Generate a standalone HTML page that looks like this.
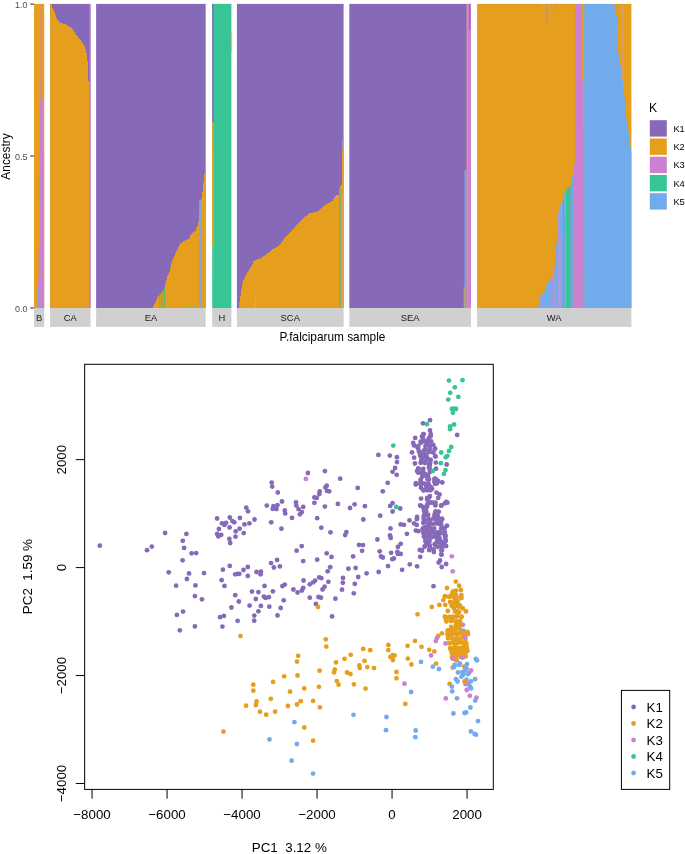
<!DOCTYPE html>
<html><head><meta charset="utf-8"><title>Admixture and PCA</title>
<style>
html,body{margin:0;padding:0;background:#fff;}
body{width:685px;height:854px;overflow:hidden;}
svg{display:block;will-change:transform;font-family:"Liberation Sans",sans-serif;}
</style></head><body>
<svg width="685" height="854" viewBox="0 0 685 854">
<rect x="0" y="0" width="685" height="854" fill="#fff"/>
<g id="admixture">
<rect x="34" y="3.9" width="10.2" height="304.1" fill="#E69F1C"/>
<polygon points="38,308 38,280 38.7,280 38.7,252 39.6,252 39.6,100 40.4,100 40.4,79 41.5,79 41.5,99 42.9,99 42.9,152 44.2,152 44.2,308" fill="#CB80D1"/>
<rect x="38.4" y="287" width="1.3" height="21" fill="#72ABEC"/>
<rect x="39.5" y="173" width="0.6" height="29" fill="#9FA08F"/>
<rect x="40.1" y="3.9" width="0.8" height="75.1" fill="#DC8C7A"/>
<rect x="50.1" y="3.9" width="40.4" height="304.1" fill="#8669B8"/>
<polygon points="50.1,308 50.1,4 51,4 51,5 52,5 52,8 53,8 53,10 54,10 54,12 55,12 55,15 56,15 56,18 57,18 57,20 58,20 58,21 59,21 59,22 60,22 60,23 61,23 61,23 62,23 62,23 63,23 63,24 64,24 64,24 65,24 65,24 66,24 66,25 67,25 67,26 68,26 68,26 69,26 69,27 70,27 70,27 71,27 71,28 72,28 72,29 73,29 73,31 74,31 74,32 75,32 75,34 76,34 76,35 77,35 77,36 78,36 78,38 79,38 79,39 80,39 80,40 81,40 81,41 82,41 82,43 83,43 83,44 84,44 84,46 85,46 85,49 86,49 86,53 87,53 87,61 88,61 88,81 89,81 89,81 89.5,81 89.5,308" fill="#E69F1C"/>
<rect x="89.5" y="3.9" width="1" height="304.1" fill="#CB80D1"/>
<rect x="96.1" y="3.9" width="109.6" height="304.1" fill="#8669B8"/>
<polygon points="153.2,308 153.2,306 154,306 154,304 155,304 155,302 156,302 156,300 157,300 157,297 158,297 158,296 159,296 159,295 160,295 160,294 161,294 161,293 162,293 162,292 163,292 163,291 164,291 164,288 165,288 165,283 166,283 166,280 167,280 167,276 168,276 168,274 169,274 169,272 170,272 170,267 171,267 171,263 172,263 172,260 173,260 173,258 174,258 174,256 175,256 175,253 176,253 176,251 177,251 177,249 178,249 178,247 179,247 179,245 180,245 180,243 181,243 181,243 182,243 182,242 183,242 183,241 184,241 184,241 185,241 185,240 186,240 186,240 187,240 187,239 188,239 188,239 189,239 189,238 190,238 190,235 191,235 191,234 192,234 192,233 193,233 193,232 194,232 194,231 195,231 195,231 196,231 196,228 197,228 197,226 198,226 198,222 199,222 199,212 200,212 200,205 201,205 201,198 202,198 202,192 203,192 203,183 204,183 204,174 205,174 205,308" fill="#E69F1C"/>
<rect x="159.2" y="294.7" width="0.9" height="13.3" fill="#62B56C"/>
<rect x="160.9" y="292.15" width="0.9" height="15.85" fill="#62B56C"/>
<rect x="162.6" y="289.6" width="0.9" height="18.4" fill="#62B56C"/>
<rect x="164" y="287.5" width="0.9" height="20.5" fill="#62B56C"/>
<rect x="181.1" y="305.5" width="0.7" height="2.5" fill="#37C597"/>
<rect x="190.5" y="305.5" width="0.7" height="2.5" fill="#37C597"/>
<rect x="194" y="305.5" width="0.7" height="2.5" fill="#37C597"/>
<rect x="199.2" y="200.4" width="1.8" height="107.6" fill="#7FA6E0"/>
<rect x="201" y="198" width="0.6" height="110" fill="#B59A8A"/>
<rect x="205" y="3.9" width="0.7" height="304.1" fill="#C98BD0"/>
<rect x="212.2" y="3.9" width="19.2" height="304.1" fill="#37C597"/>
<rect x="212.2" y="3.9" width="1.4" height="118.1" fill="#8669B8"/>
<rect x="212.2" y="122" width="1.3" height="123" fill="#E69F1C"/>
<rect x="212.2" y="147.5" width="1.8" height="97.5" fill="#E69F1C"/>
<rect x="212.9" y="245" width="0.8" height="34" fill="#E69F1C"/>
<rect x="230.8" y="33" width="0.6" height="19.7" fill="#E69F1C"/>
<rect x="236.9" y="3.9" width="106.7" height="304.1" fill="#8669B8"/>
<polygon points="239.1,308 239.1,302 240,302 240,296 241,296 241,289 242,289 242,283 243,283 243,280 244,280 244,278 245,278 245,276 246,276 246,274 247,274 247,272 248,272 248,271 249,271 249,269 250,269 250,268 251,268 251,266 252,266 252,264 253,264 253,261 254,261 254,261 255,261 255,260 256,260 256,260 257,260 257,259 258,259 258,259 259,259 259,259 260,259 260,258 261,258 261,258 262,258 262,257 263,257 263,256 264,256 264,256 265,256 265,255 266,255 266,254 267,254 267,253 268,253 268,253 269,253 269,252 270,252 270,251 271,251 271,250 272,250 272,249 273,249 273,249 274,249 274,248 275,248 275,248 276,248 276,247 277,247 277,247 278,247 278,246 279,246 279,245 280,245 280,244 281,244 281,242 282,242 282,241 283,241 283,240 284,240 284,238 285,238 285,237 286,237 286,236 287,236 287,235 288,235 288,234 289,234 289,233 290,233 290,232 291,232 291,231 292,231 292,230 293,230 293,229 294,229 294,228 295,228 295,226 296,226 296,225 297,225 297,224 298,224 298,223 299,223 299,222 300,222 300,221 301,221 301,220 302,220 302,219 303,219 303,218 304,218 304,217 305,217 305,216 306,216 306,216 307,216 307,215 308,215 308,214 309,214 309,213 310,213 310,213 311,213 311,213 312,213 312,213 313,213 313,212 314,212 314,212 315,212 315,212 316,212 316,212 317,212 317,211 318,211 318,211 319,211 319,210 320,210 320,209 321,209 321,208 322,208 322,207 323,207 323,206 324,206 324,206 325,206 325,205 326,205 326,204 327,204 327,204 328,204 328,203 329,203 329,203 330,203 330,202 331,202 331,201 332,201 332,201 333,201 333,199 334,199 334,197 335,197 335,196 336,196 336,195 337,195 337,195 338,195 338,195 339,195 339,189 340,189 340,186 341,186 341,185 342,185 342,150 343,150 343,150 343.6,150 343.6,308" fill="#E69F1C"/>
<rect x="342.2" y="140.5" width="1.4" height="9.5" fill="#C48AC4"/>
<rect x="339.2" y="187.5" width="1.3" height="120.5" fill="#37C597"/>
<rect x="342.5" y="194.5" width="0.8" height="113.5" fill="#E0A090"/>
<rect x="255.3" y="295.2" width="0.8" height="12.8" fill="#E0A0A0"/>
<rect x="349.3" y="3.9" width="121.7" height="304.1" fill="#8669B8"/>
<rect x="463.7" y="287" width="1.3" height="21" fill="#E69F1C"/>
<rect x="464.6" y="170" width="1.9" height="138" fill="#72ABEC"/>
<rect x="466.5" y="3.9" width="1.5" height="304.1" fill="#D9948A"/>
<rect x="468" y="3.9" width="3" height="304.1" fill="#CB80D1"/>
<rect x="469.3" y="3.9" width="1" height="26.1" fill="#8669B8"/>
<rect x="477.1" y="3.9" width="154.3" height="304.1" fill="#E69F1C"/>
<clipPath id="wc"><polygon points="535.7,308 535.7,308 536,308 536,307 537,307 537,306 538,306 538,305 539,305 539,303 540,303 540,295 541,295 541,295 542,295 542,294 543,294 543,293 544,293 544,291 545,291 545,288 546,288 546,286 547,286 547,284 548,284 548,282 549,282 549,280 550,280 550,279 551,279 551,278 552,278 552,277 553,277 553,275 554,275 554,268 555,268 555,258 556,258 556,244 557,244 557,228 558,228 558,211 559,211 559,210 560,210 560,205 561,205 561,204 562,204 562,202 563,202 563,200 564,200 564,193 565,193 565,190 566,190 566,189 567,189 567,188 568,188 568,187 569,187 569,187 570,187 570,185 571,185 571,184 572,184 572,175 573,175 573,170 574,170 574,165 574.6,165 574.6,308"/></clipPath>
<g clip-path="url(#wc)">
<rect x="530" y="3.9" width="45" height="304.1" fill="#72ABEC"/>
<rect x="540.4" y="3.9" width="0.7" height="304.1" fill="#A79ADF"/>
<rect x="542.8" y="3.9" width="0.7" height="304.1" fill="#A79ADF"/>
<rect x="545" y="3.9" width="0.7" height="304.1" fill="#A79ADF"/>
<rect x="547.3" y="3.9" width="0.6" height="304.1" fill="#A79ADF"/>
<rect x="550.6" y="3.9" width="0.7" height="304.1" fill="#A79ADF"/>
<rect x="552.2" y="3.9" width="0.6" height="304.1" fill="#A79ADF"/>
<rect x="553.9" y="3.9" width="1.5" height="304.1" fill="#A79ADF"/>
<rect x="557.7" y="3.9" width="3.8" height="304.1" fill="#A79ADF"/>
<rect x="560.2" y="3.9" width="1.3" height="231.1" fill="#72ABEC"/>
<rect x="563" y="3.9" width="1.2" height="304.1" fill="#37C597"/>
<rect x="564.9" y="190" width="1" height="25" fill="#A79ADF"/>
<rect x="566.1" y="3.9" width="4.5" height="304.1" fill="#37C597"/>
<rect x="570.6" y="3.9" width="0.8" height="304.1" fill="#A294BC"/>
<rect x="571.4" y="3.9" width="1.1" height="304.1" fill="#45C0A4"/>
<rect x="572.5" y="3.9" width="2.1" height="304.1" fill="#72ABEC"/>
</g>
<polygon points="575,3.9 584.1,3.9 584.1,270.8 582.8,270.8 582.8,308 573.6,308 573.6,163.2 575,163.2" fill="#CB80D1"/>
<rect x="582.8" y="270.8" width="1.5" height="37.2" fill="#72ABEC"/>
<polygon points="582,3.9 584.1,3.9 584.1,131.4 583.1,131.4 583.1,80.6 582,80.6" fill="#E69F1C"/>
<polygon points="584.1,308 584.1,4 585,4 585,4 586,4 586,4 587,4 587,4 588,4 588,4 589,4 589,4 590,4 590,4 591,4 591,4 592,4 592,4 593,4 593,4 594,4 594,4 595,4 595,4 596,4 596,4 597,4 597,4 598,4 598,4 599,4 599,4 600,4 600,4 601,4 601,4 602,4 602,4 603,4 603,4 604,4 604,4 605,4 605,4 606,4 606,4 607,4 607,4 608,4 608,4 609,4 609,4 610,4 610,4 611,4 611,4 612,4 612,4 613,4 613,4 614,4 614,5 615,5 615,9 616,9 616,15 617,15 617,33 618,33 618,53 619,53 619,58 620,58 620,66 621,66 621,74 622,74 622,79 623,79 623,88 624,88 624,98 625,98 625,108 626,108 626,120 627,120 627,126 628,126 628,132 629,132 629,137 630,137 630,147 631,147 631,151 631.4,151 631.4,308" fill="#72ABEC"/>
<rect x="617.1" y="3.9" width="1" height="20.5" fill="#6FBF7A"/>
<rect x="624.8" y="89" width="1" height="14.9" fill="#6FBF7A"/>
<rect x="621.9" y="3.9" width="1.2" height="76.1" fill="#E0A066"/>
<rect x="537" y="3.9" width="0.7" height="3.1" fill="#A88A8E"/>
<rect x="546.4" y="3.9" width="0.7" height="18.3" fill="#A88A8E"/>
<rect x="554.6" y="3.9" width="0.7" height="6.6" fill="#A88A8E"/>
<rect x="34" y="308" width="10.2" height="18.9" fill="#D0D0D0"/>
<text x="39.1" y="320.6" text-anchor="middle" font-size="9.4" fill="#1A1A1A">B</text>
<rect x="50.1" y="308" width="40.4" height="18.9" fill="#D0D0D0"/>
<text x="70.3" y="320.6" text-anchor="middle" font-size="9.4" fill="#1A1A1A">CA</text>
<rect x="96.1" y="308" width="109.6" height="18.9" fill="#D0D0D0"/>
<text x="150.9" y="320.6" text-anchor="middle" font-size="9.4" fill="#1A1A1A">EA</text>
<rect x="212.2" y="308" width="19.2" height="18.9" fill="#D0D0D0"/>
<text x="221.8" y="320.6" text-anchor="middle" font-size="9.4" fill="#1A1A1A">H</text>
<rect x="236.9" y="308" width="106.7" height="18.9" fill="#D0D0D0"/>
<text x="290.25" y="320.6" text-anchor="middle" font-size="9.4" fill="#1A1A1A">SCA</text>
<rect x="349.3" y="308" width="121.7" height="18.9" fill="#D0D0D0"/>
<text x="410.15" y="320.6" text-anchor="middle" font-size="9.4" fill="#1A1A1A">SEA</text>
<rect x="477.1" y="308" width="154.3" height="18.9" fill="#D0D0D0"/>
<text x="554.25" y="320.6" text-anchor="middle" font-size="9.4" fill="#1A1A1A">WA</text>
<line x1="30.3" x2="33.9" y1="4.1" y2="4.1" stroke="#333" stroke-width="1.1"/>
<text x="27.6" y="7.8" text-anchor="end" font-size="9.0" fill="#4D4D4D">1.0</text>
<line x1="30.3" x2="33.9" y1="156" y2="156" stroke="#333" stroke-width="1.1"/>
<text x="27.6" y="159.7" text-anchor="end" font-size="9.0" fill="#4D4D4D">0.5</text>
<line x1="30.3" x2="33.9" y1="308" y2="308" stroke="#333" stroke-width="1.1"/>
<text x="27.6" y="311.7" text-anchor="end" font-size="9.0" fill="#4D4D4D">0.0</text>
<text transform="translate(10.3,156.5) rotate(-90)" text-anchor="middle" font-size="11.9" fill="#000">Ancestry</text>
<text x="332.5" y="340.9" text-anchor="middle" font-size="11.85" fill="#000">P.falciparum sample</text>
<text x="649.1" y="112" font-size="12.2" fill="#000">K</text>
<rect x="649.8" y="120.2" width="17" height="16.4" fill="#8669B8"/>
<text x="673.4" y="131.8" font-size="9.3" fill="#000">K1</text>
<rect x="649.8" y="138.45" width="17" height="16.4" fill="#E69F1C"/>
<text x="673.4" y="150.05" font-size="9.3" fill="#000">K2</text>
<rect x="649.8" y="156.7" width="17" height="16.4" fill="#CB80D1"/>
<text x="673.4" y="168.3" font-size="9.3" fill="#000">K3</text>
<rect x="649.8" y="174.95" width="17" height="16.4" fill="#37C597"/>
<text x="673.4" y="186.55" font-size="9.3" fill="#000">K4</text>
<rect x="649.8" y="193.2" width="17" height="16.4" fill="#72ABEC"/>
<text x="673.4" y="204.8" font-size="9.3" fill="#000">K5</text>
</g>
<g id="pca">
<circle cx="463.4" cy="630.7" r="2.4" fill="#72ABEC"/>
<circle cx="466.5" cy="648.8" r="2.4" fill="#72ABEC"/>
<circle cx="456.3" cy="656.2" r="2.4" fill="#72ABEC"/>
<circle cx="305.9" cy="478.9" r="2.4" fill="#CB80D1"/>
<circle cx="451.8" cy="556.3" r="2.4" fill="#CB80D1"/>
<circle cx="462.9" cy="624.8" r="2.4" fill="#CB80D1"/>
<circle cx="445.5" cy="643.5" r="2.4" fill="#CB80D1"/>
<circle cx="456.6" cy="660.3" r="2.4" fill="#CB80D1"/>
<circle cx="99.8" cy="545.7" r="2.4" fill="#8669B8"/>
<circle cx="147" cy="550.2" r="2.4" fill="#8669B8"/>
<circle cx="151.8" cy="546.6" r="2.4" fill="#8669B8"/>
<circle cx="165.1" cy="533" r="2.4" fill="#8669B8"/>
<circle cx="186.4" cy="533.9" r="2.4" fill="#8669B8"/>
<circle cx="182.8" cy="540.8" r="2.4" fill="#8669B8"/>
<circle cx="184.1" cy="547.9" r="2.4" fill="#8669B8"/>
<circle cx="191.6" cy="553.3" r="2.4" fill="#8669B8"/>
<circle cx="196.2" cy="553.1" r="2.4" fill="#8669B8"/>
<circle cx="182.6" cy="560.3" r="2.4" fill="#8669B8"/>
<circle cx="168.7" cy="572.3" r="2.4" fill="#8669B8"/>
<circle cx="189" cy="573.4" r="2.4" fill="#8669B8"/>
<circle cx="186.9" cy="579" r="2.4" fill="#8669B8"/>
<circle cx="176.1" cy="585.7" r="2.4" fill="#8669B8"/>
<circle cx="195.4" cy="585.4" r="2.4" fill="#8669B8"/>
<circle cx="194.9" cy="596.1" r="2.4" fill="#8669B8"/>
<circle cx="183" cy="611.6" r="2.4" fill="#8669B8"/>
<circle cx="176.9" cy="614.9" r="2.4" fill="#8669B8"/>
<circle cx="194.9" cy="626.4" r="2.4" fill="#8669B8"/>
<circle cx="179.8" cy="630.3" r="2.4" fill="#8669B8"/>
<circle cx="277.8" cy="492.5" r="2.4" fill="#8669B8"/>
<circle cx="282" cy="501.5" r="2.4" fill="#8669B8"/>
<circle cx="266.8" cy="505.6" r="2.4" fill="#8669B8"/>
<circle cx="273.4" cy="506.1" r="2.4" fill="#8669B8"/>
<circle cx="277.5" cy="505.1" r="2.4" fill="#8669B8"/>
<circle cx="272.7" cy="508.9" r="2.4" fill="#8669B8"/>
<circle cx="276.5" cy="509" r="2.4" fill="#8669B8"/>
<circle cx="275" cy="507.4" r="2.4" fill="#8669B8"/>
<circle cx="246.3" cy="507.7" r="2.4" fill="#8669B8"/>
<circle cx="248" cy="511.3" r="2.4" fill="#8669B8"/>
<circle cx="284.8" cy="510.5" r="2.4" fill="#8669B8"/>
<circle cx="285.2" cy="513.4" r="2.4" fill="#8669B8"/>
<circle cx="296" cy="502.3" r="2.4" fill="#8669B8"/>
<circle cx="296.3" cy="505.6" r="2.4" fill="#8669B8"/>
<circle cx="298.6" cy="509.2" r="2.4" fill="#8669B8"/>
<circle cx="303.2" cy="506.9" r="2.4" fill="#8669B8"/>
<circle cx="301.9" cy="512.1" r="2.4" fill="#8669B8"/>
<circle cx="299.9" cy="514.3" r="2.4" fill="#8669B8"/>
<circle cx="292" cy="517.9" r="2.4" fill="#8669B8"/>
<circle cx="271.2" cy="522.3" r="2.4" fill="#8669B8"/>
<circle cx="281.4" cy="528.7" r="2.4" fill="#8669B8"/>
<circle cx="217.1" cy="518.5" r="2.4" fill="#8669B8"/>
<circle cx="229.8" cy="517.5" r="2.4" fill="#8669B8"/>
<circle cx="239.9" cy="518" r="2.4" fill="#8669B8"/>
<circle cx="254.5" cy="519.5" r="2.4" fill="#8669B8"/>
<circle cx="232.4" cy="521.1" r="2.4" fill="#8669B8"/>
<circle cx="234.3" cy="522.3" r="2.4" fill="#8669B8"/>
<circle cx="222" cy="523.3" r="2.4" fill="#8669B8"/>
<circle cx="226.1" cy="522.8" r="2.4" fill="#8669B8"/>
<circle cx="224.5" cy="524.9" r="2.4" fill="#8669B8"/>
<circle cx="249.4" cy="523.3" r="2.4" fill="#8669B8"/>
<circle cx="244.5" cy="524.4" r="2.4" fill="#8669B8"/>
<circle cx="229.6" cy="527.4" r="2.4" fill="#8669B8"/>
<circle cx="218.9" cy="529" r="2.4" fill="#8669B8"/>
<circle cx="239.6" cy="528.7" r="2.4" fill="#8669B8"/>
<circle cx="235.7" cy="531.3" r="2.4" fill="#8669B8"/>
<circle cx="243.7" cy="533.1" r="2.4" fill="#8669B8"/>
<circle cx="217.1" cy="533.9" r="2.4" fill="#8669B8"/>
<circle cx="221.2" cy="534.8" r="2.4" fill="#8669B8"/>
<circle cx="218.4" cy="536.4" r="2.4" fill="#8669B8"/>
<circle cx="235.5" cy="536.7" r="2.4" fill="#8669B8"/>
<circle cx="229.4" cy="538.9" r="2.4" fill="#8669B8"/>
<circle cx="230.2" cy="543" r="2.4" fill="#8669B8"/>
<circle cx="301.7" cy="546.1" r="2.4" fill="#8669B8"/>
<circle cx="296.6" cy="550.7" r="2.4" fill="#8669B8"/>
<circle cx="303.2" cy="561.1" r="2.4" fill="#8669B8"/>
<circle cx="277.1" cy="560" r="2.4" fill="#8669B8"/>
<circle cx="271.1" cy="563.1" r="2.4" fill="#8669B8"/>
<circle cx="273.9" cy="567.5" r="2.4" fill="#8669B8"/>
<circle cx="279.9" cy="566.4" r="2.4" fill="#8669B8"/>
<circle cx="229.8" cy="565.9" r="2.4" fill="#8669B8"/>
<circle cx="222.9" cy="569.7" r="2.4" fill="#8669B8"/>
<circle cx="247.8" cy="567" r="2.4" fill="#8669B8"/>
<circle cx="243.5" cy="570" r="2.4" fill="#8669B8"/>
<circle cx="235.2" cy="574.3" r="2.4" fill="#8669B8"/>
<circle cx="237.3" cy="573.9" r="2.4" fill="#8669B8"/>
<circle cx="239.3" cy="573.8" r="2.4" fill="#8669B8"/>
<circle cx="247.8" cy="575.9" r="2.4" fill="#8669B8"/>
<circle cx="256.5" cy="572" r="2.4" fill="#8669B8"/>
<circle cx="260.9" cy="571.6" r="2.4" fill="#8669B8"/>
<circle cx="260.6" cy="574.3" r="2.4" fill="#8669B8"/>
<circle cx="204" cy="573.1" r="2.4" fill="#8669B8"/>
<circle cx="221.6" cy="580.2" r="2.4" fill="#8669B8"/>
<circle cx="224.5" cy="585.9" r="2.4" fill="#8669B8"/>
<circle cx="303.5" cy="580.5" r="2.4" fill="#8669B8"/>
<circle cx="284.8" cy="584.6" r="2.4" fill="#8669B8"/>
<circle cx="282.4" cy="586.1" r="2.4" fill="#8669B8"/>
<circle cx="264.5" cy="585.9" r="2.4" fill="#8669B8"/>
<circle cx="293.4" cy="589.5" r="2.4" fill="#8669B8"/>
<circle cx="303.2" cy="587.9" r="2.4" fill="#8669B8"/>
<circle cx="301.9" cy="590.5" r="2.4" fill="#8669B8"/>
<circle cx="297.6" cy="592.5" r="2.4" fill="#8669B8"/>
<circle cx="252" cy="591.6" r="2.4" fill="#8669B8"/>
<circle cx="258.4" cy="592.1" r="2.4" fill="#8669B8"/>
<circle cx="272.9" cy="591.3" r="2.4" fill="#8669B8"/>
<circle cx="235.2" cy="595.2" r="2.4" fill="#8669B8"/>
<circle cx="202" cy="599.3" r="2.4" fill="#8669B8"/>
<circle cx="263.9" cy="596.6" r="2.4" fill="#8669B8"/>
<circle cx="265.5" cy="597.9" r="2.4" fill="#8669B8"/>
<circle cx="268.8" cy="597.2" r="2.4" fill="#8669B8"/>
<circle cx="255.8" cy="599" r="2.4" fill="#8669B8"/>
<circle cx="283.7" cy="600.3" r="2.4" fill="#8669B8"/>
<circle cx="238.8" cy="601.5" r="2.4" fill="#8669B8"/>
<circle cx="249.6" cy="605.6" r="2.4" fill="#8669B8"/>
<circle cx="260.9" cy="605.9" r="2.4" fill="#8669B8"/>
<circle cx="269.3" cy="606.7" r="2.4" fill="#8669B8"/>
<circle cx="280.7" cy="608" r="2.4" fill="#8669B8"/>
<circle cx="231.4" cy="607.5" r="2.4" fill="#8669B8"/>
<circle cx="258.4" cy="611.3" r="2.4" fill="#8669B8"/>
<circle cx="254.3" cy="615.6" r="2.4" fill="#8669B8"/>
<circle cx="277.5" cy="615.4" r="2.4" fill="#8669B8"/>
<circle cx="223.9" cy="615.9" r="2.4" fill="#8669B8"/>
<circle cx="220.1" cy="617.2" r="2.4" fill="#8669B8"/>
<circle cx="237.6" cy="620.8" r="2.4" fill="#8669B8"/>
<circle cx="254.2" cy="620.7" r="2.4" fill="#8669B8"/>
<circle cx="222.4" cy="626.6" r="2.4" fill="#8669B8"/>
<circle cx="319.7" cy="491.3" r="2.4" fill="#8669B8"/>
<circle cx="327" cy="490.8" r="2.4" fill="#8669B8"/>
<circle cx="329.2" cy="491.3" r="2.4" fill="#8669B8"/>
<circle cx="319.3" cy="494.1" r="2.4" fill="#8669B8"/>
<circle cx="314.4" cy="497.4" r="2.4" fill="#8669B8"/>
<circle cx="316.7" cy="497.9" r="2.4" fill="#8669B8"/>
<circle cx="382.8" cy="491.3" r="2.4" fill="#8669B8"/>
<circle cx="314.4" cy="502.8" r="2.4" fill="#8669B8"/>
<circle cx="324.9" cy="506.6" r="2.4" fill="#8669B8"/>
<circle cx="337.9" cy="503.9" r="2.4" fill="#8669B8"/>
<circle cx="354.6" cy="504.3" r="2.4" fill="#8669B8"/>
<circle cx="350" cy="508" r="2.4" fill="#8669B8"/>
<circle cx="364.9" cy="506.2" r="2.4" fill="#8669B8"/>
<circle cx="392.6" cy="503.1" r="2.4" fill="#8669B8"/>
<circle cx="390.2" cy="505.9" r="2.4" fill="#8669B8"/>
<circle cx="400.2" cy="508.5" r="2.4" fill="#8669B8"/>
<circle cx="392.6" cy="511.5" r="2.4" fill="#8669B8"/>
<circle cx="380.2" cy="515.7" r="2.4" fill="#8669B8"/>
<circle cx="317.2" cy="518.2" r="2.4" fill="#8669B8"/>
<circle cx="363.3" cy="519.5" r="2.4" fill="#8669B8"/>
<circle cx="409.5" cy="520.3" r="2.4" fill="#8669B8"/>
<circle cx="400.7" cy="524.4" r="2.4" fill="#8669B8"/>
<circle cx="403.9" cy="524.8" r="2.4" fill="#8669B8"/>
<circle cx="390.5" cy="528.4" r="2.4" fill="#8669B8"/>
<circle cx="321.3" cy="527.7" r="2.4" fill="#8669B8"/>
<circle cx="330.5" cy="532.3" r="2.4" fill="#8669B8"/>
<circle cx="346.4" cy="532.1" r="2.4" fill="#8669B8"/>
<circle cx="345.2" cy="535.1" r="2.4" fill="#8669B8"/>
<circle cx="406.9" cy="533.8" r="2.4" fill="#8669B8"/>
<circle cx="390" cy="535.4" r="2.4" fill="#8669B8"/>
<circle cx="390.7" cy="537.9" r="2.4" fill="#8669B8"/>
<circle cx="377.4" cy="539.5" r="2.4" fill="#8669B8"/>
<circle cx="400.7" cy="543.8" r="2.4" fill="#8669B8"/>
<circle cx="397.9" cy="546.9" r="2.4" fill="#8669B8"/>
<circle cx="359" cy="544.9" r="2.4" fill="#8669B8"/>
<circle cx="363" cy="545.1" r="2.4" fill="#8669B8"/>
<circle cx="362.1" cy="550.8" r="2.4" fill="#8669B8"/>
<circle cx="379.7" cy="551.3" r="2.4" fill="#8669B8"/>
<circle cx="391.1" cy="552.8" r="2.4" fill="#8669B8"/>
<circle cx="397.4" cy="552" r="2.4" fill="#8669B8"/>
<circle cx="397.9" cy="553.9" r="2.4" fill="#8669B8"/>
<circle cx="400.7" cy="553.9" r="2.4" fill="#8669B8"/>
<circle cx="326.7" cy="553.3" r="2.4" fill="#8669B8"/>
<circle cx="331.5" cy="556.9" r="2.4" fill="#8669B8"/>
<circle cx="353.1" cy="556.4" r="2.4" fill="#8669B8"/>
<circle cx="381" cy="556.4" r="2.4" fill="#8669B8"/>
<circle cx="382.8" cy="557.5" r="2.4" fill="#8669B8"/>
<circle cx="392.3" cy="559.2" r="2.4" fill="#8669B8"/>
<circle cx="393.9" cy="558.4" r="2.4" fill="#8669B8"/>
<circle cx="317.2" cy="559.7" r="2.4" fill="#8669B8"/>
<circle cx="409.8" cy="564.3" r="2.4" fill="#8669B8"/>
<circle cx="388" cy="566.1" r="2.4" fill="#8669B8"/>
<circle cx="330.2" cy="567.2" r="2.4" fill="#8669B8"/>
<circle cx="348.4" cy="568.7" r="2.4" fill="#8669B8"/>
<circle cx="355.6" cy="568" r="2.4" fill="#8669B8"/>
<circle cx="402.1" cy="569.8" r="2.4" fill="#8669B8"/>
<circle cx="327.7" cy="571.3" r="2.4" fill="#8669B8"/>
<circle cx="378.7" cy="572" r="2.4" fill="#8669B8"/>
<circle cx="366.6" cy="573.3" r="2.4" fill="#8669B8"/>
<circle cx="319.2" cy="577.4" r="2.4" fill="#8669B8"/>
<circle cx="321.3" cy="578.2" r="2.4" fill="#8669B8"/>
<circle cx="343" cy="578" r="2.4" fill="#8669B8"/>
<circle cx="358.2" cy="577" r="2.4" fill="#8669B8"/>
<circle cx="315.1" cy="580.7" r="2.4" fill="#8669B8"/>
<circle cx="313.1" cy="582.3" r="2.4" fill="#8669B8"/>
<circle cx="309.8" cy="584.3" r="2.4" fill="#8669B8"/>
<circle cx="328.4" cy="581.8" r="2.4" fill="#8669B8"/>
<circle cx="342.8" cy="582.8" r="2.4" fill="#8669B8"/>
<circle cx="354.8" cy="583.9" r="2.4" fill="#8669B8"/>
<circle cx="324.6" cy="586.7" r="2.4" fill="#8669B8"/>
<circle cx="322.5" cy="589.5" r="2.4" fill="#8669B8"/>
<circle cx="342" cy="589.7" r="2.4" fill="#8669B8"/>
<circle cx="353.8" cy="593.3" r="2.4" fill="#8669B8"/>
<circle cx="309.8" cy="597.7" r="2.4" fill="#8669B8"/>
<circle cx="318.5" cy="597" r="2.4" fill="#8669B8"/>
<circle cx="321" cy="597.7" r="2.4" fill="#8669B8"/>
<circle cx="335.4" cy="598.7" r="2.4" fill="#8669B8"/>
<circle cx="315.9" cy="603.9" r="2.4" fill="#8669B8"/>
<circle cx="332.1" cy="616.4" r="2.4" fill="#8669B8"/>
<circle cx="271.7" cy="482.6" r="2.4" fill="#8669B8"/>
<circle cx="272.2" cy="486.6" r="2.4" fill="#8669B8"/>
<circle cx="378.4" cy="454.9" r="2.4" fill="#8669B8"/>
<circle cx="389.8" cy="455.6" r="2.4" fill="#8669B8"/>
<circle cx="396.9" cy="457.2" r="2.4" fill="#8669B8"/>
<circle cx="397" cy="462.1" r="2.4" fill="#8669B8"/>
<circle cx="395.1" cy="468" r="2.4" fill="#8669B8"/>
<circle cx="392.6" cy="471.8" r="2.4" fill="#8669B8"/>
<circle cx="396.7" cy="474.8" r="2.4" fill="#8669B8"/>
<circle cx="387.7" cy="482.8" r="2.4" fill="#8669B8"/>
<circle cx="357.7" cy="487.9" r="2.4" fill="#8669B8"/>
<circle cx="340.2" cy="478.7" r="2.4" fill="#8669B8"/>
<circle cx="324.9" cy="471.1" r="2.4" fill="#8669B8"/>
<circle cx="307.9" cy="473" r="2.4" fill="#8669B8"/>
<circle cx="326.7" cy="485.7" r="2.4" fill="#8669B8"/>
<circle cx="325.4" cy="487.5" r="2.4" fill="#8669B8"/>
<circle cx="430" cy="420.2" r="2.4" fill="#8669B8"/>
<circle cx="423" cy="423.3" r="2.4" fill="#8669B8"/>
<circle cx="457.2" cy="435" r="2.4" fill="#8669B8"/>
<circle cx="430" cy="430.4" r="2.4" fill="#8669B8"/>
<circle cx="430.7" cy="436" r="2.4" fill="#8669B8"/>
<circle cx="415.2" cy="437.9" r="2.4" fill="#8669B8"/>
<circle cx="446.7" cy="464.5" r="2.4" fill="#8669B8"/>
<circle cx="435.8" cy="462.6" r="2.4" fill="#8669B8"/>
<circle cx="436" cy="468.7" r="2.4" fill="#8669B8"/>
<circle cx="442.3" cy="482.5" r="2.4" fill="#8669B8"/>
<circle cx="423.5" cy="434.2" r="2.4" fill="#8669B8"/>
<circle cx="422" cy="436.4" r="2.4" fill="#8669B8"/>
<circle cx="428.6" cy="439.1" r="2.4" fill="#8669B8"/>
<circle cx="413.2" cy="443" r="2.4" fill="#8669B8"/>
<circle cx="421.1" cy="442.6" r="2.4" fill="#8669B8"/>
<circle cx="426.4" cy="441.7" r="2.4" fill="#8669B8"/>
<circle cx="430.7" cy="441.7" r="2.4" fill="#8669B8"/>
<circle cx="414.1" cy="445.6" r="2.4" fill="#8669B8"/>
<circle cx="417.6" cy="447" r="2.4" fill="#8669B8"/>
<circle cx="425.5" cy="446.1" r="2.4" fill="#8669B8"/>
<circle cx="429.9" cy="446.1" r="2.4" fill="#8669B8"/>
<circle cx="435.1" cy="448.7" r="2.4" fill="#8669B8"/>
<circle cx="412" cy="452.4" r="2.4" fill="#8669B8"/>
<circle cx="418.9" cy="451.4" r="2.4" fill="#8669B8"/>
<circle cx="424.2" cy="450.5" r="2.4" fill="#8669B8"/>
<circle cx="429" cy="451.4" r="2.4" fill="#8669B8"/>
<circle cx="433.4" cy="452.2" r="2.4" fill="#8669B8"/>
<circle cx="420.2" cy="454.9" r="2.4" fill="#8669B8"/>
<circle cx="425.5" cy="454.9" r="2.4" fill="#8669B8"/>
<circle cx="435.6" cy="456.6" r="2.4" fill="#8669B8"/>
<circle cx="414.1" cy="457.7" r="2.4" fill="#8669B8"/>
<circle cx="422" cy="458.4" r="2.4" fill="#8669B8"/>
<circle cx="427.2" cy="458.4" r="2.4" fill="#8669B8"/>
<circle cx="430.7" cy="460.1" r="2.4" fill="#8669B8"/>
<circle cx="421.1" cy="461.9" r="2.4" fill="#8669B8"/>
<circle cx="425.5" cy="461.9" r="2.4" fill="#8669B8"/>
<circle cx="414.9" cy="463.5" r="2.4" fill="#8669B8"/>
<circle cx="429" cy="464.5" r="2.4" fill="#8669B8"/>
<circle cx="429" cy="467.2" r="2.4" fill="#8669B8"/>
<circle cx="418.4" cy="468.5" r="2.4" fill="#8669B8"/>
<circle cx="422.8" cy="469.8" r="2.4" fill="#8669B8"/>
<circle cx="417.1" cy="471.1" r="2.4" fill="#8669B8"/>
<circle cx="421.1" cy="472.9" r="2.4" fill="#8669B8"/>
<circle cx="429.9" cy="472" r="2.4" fill="#8669B8"/>
<circle cx="425.5" cy="474.2" r="2.4" fill="#8669B8"/>
<circle cx="422.4" cy="476" r="2.4" fill="#8669B8"/>
<circle cx="427.2" cy="476.8" r="2.4" fill="#8669B8"/>
<circle cx="429" cy="479.5" r="2.4" fill="#8669B8"/>
<circle cx="420.6" cy="480.8" r="2.4" fill="#8669B8"/>
<circle cx="435.1" cy="478.6" r="2.4" fill="#8669B8"/>
<circle cx="434.3" cy="481.7" r="2.4" fill="#8669B8"/>
<circle cx="438.2" cy="481.2" r="2.4" fill="#8669B8"/>
<circle cx="415.8" cy="484.6" r="2.4" fill="#8669B8"/>
<circle cx="421.1" cy="484.7" r="2.4" fill="#8669B8"/>
<circle cx="428.1" cy="483.9" r="2.4" fill="#8669B8"/>
<circle cx="426.4" cy="486.5" r="2.4" fill="#8669B8"/>
<circle cx="429.9" cy="487.4" r="2.4" fill="#8669B8"/>
<circle cx="423.7" cy="490" r="2.4" fill="#8669B8"/>
<circle cx="432.1" cy="488.7" r="2.4" fill="#8669B8"/>
<circle cx="427.2" cy="490" r="2.4" fill="#8669B8"/>
<circle cx="436.5" cy="492.6" r="2.4" fill="#8669B8"/>
<circle cx="439.5" cy="494.4" r="2.4" fill="#8669B8"/>
<circle cx="429.9" cy="496.2" r="2.4" fill="#8669B8"/>
<circle cx="427.2" cy="497.9" r="2.4" fill="#8669B8"/>
<circle cx="421.1" cy="498.6" r="2.4" fill="#8669B8"/>
<circle cx="438.2" cy="497.9" r="2.4" fill="#8669B8"/>
<circle cx="429" cy="497.6" r="2.4" fill="#8669B8"/>
<circle cx="427.2" cy="499.4" r="2.4" fill="#8669B8"/>
<circle cx="430.7" cy="502.5" r="2.4" fill="#8669B8"/>
<circle cx="435.1" cy="504.7" r="2.4" fill="#8669B8"/>
<circle cx="427.2" cy="504.7" r="2.4" fill="#8669B8"/>
<circle cx="420.2" cy="505.5" r="2.4" fill="#8669B8"/>
<circle cx="423.7" cy="507.3" r="2.4" fill="#8669B8"/>
<circle cx="441.3" cy="505.5" r="2.4" fill="#8669B8"/>
<circle cx="444.8" cy="503.3" r="2.4" fill="#8669B8"/>
<circle cx="447.4" cy="502.7" r="2.4" fill="#8669B8"/>
<circle cx="425.5" cy="510.8" r="2.4" fill="#8669B8"/>
<circle cx="438.7" cy="511.7" r="2.4" fill="#8669B8"/>
<circle cx="435.1" cy="513.4" r="2.4" fill="#8669B8"/>
<circle cx="427.2" cy="514.8" r="2.4" fill="#8669B8"/>
<circle cx="423.7" cy="516.1" r="2.4" fill="#8669B8"/>
<circle cx="417.1" cy="517" r="2.4" fill="#8669B8"/>
<circle cx="417.1" cy="518.7" r="2.4" fill="#8669B8"/>
<circle cx="434.3" cy="517" r="2.4" fill="#8669B8"/>
<circle cx="437.8" cy="517.8" r="2.4" fill="#8669B8"/>
<circle cx="442.2" cy="519.2" r="2.4" fill="#8669B8"/>
<circle cx="425.5" cy="520.5" r="2.4" fill="#8669B8"/>
<circle cx="429.9" cy="520.5" r="2.4" fill="#8669B8"/>
<circle cx="440.8" cy="521.4" r="2.4" fill="#8669B8"/>
<circle cx="414.1" cy="523.3" r="2.4" fill="#8669B8"/>
<circle cx="416.7" cy="524.9" r="2.4" fill="#8669B8"/>
<circle cx="423.7" cy="522.2" r="2.4" fill="#8669B8"/>
<circle cx="429.9" cy="524" r="2.4" fill="#8669B8"/>
<circle cx="436" cy="523.1" r="2.4" fill="#8669B8"/>
<circle cx="439.5" cy="524" r="2.4" fill="#8669B8"/>
<circle cx="447" cy="525.7" r="2.4" fill="#8669B8"/>
<circle cx="424.6" cy="527.5" r="2.4" fill="#8669B8"/>
<circle cx="429" cy="527.1" r="2.4" fill="#8669B8"/>
<circle cx="442.2" cy="528.4" r="2.4" fill="#8669B8"/>
<circle cx="444.8" cy="527.9" r="2.4" fill="#8669B8"/>
<circle cx="422.8" cy="529.3" r="2.4" fill="#8669B8"/>
<circle cx="415.8" cy="530.6" r="2.4" fill="#8669B8"/>
<circle cx="418.4" cy="531.2" r="2.4" fill="#8669B8"/>
<circle cx="427.2" cy="530.1" r="2.4" fill="#8669B8"/>
<circle cx="432.5" cy="531" r="2.4" fill="#8669B8"/>
<circle cx="439.5" cy="531.9" r="2.4" fill="#8669B8"/>
<circle cx="423.7" cy="533.7" r="2.4" fill="#8669B8"/>
<circle cx="429" cy="533.7" r="2.4" fill="#8669B8"/>
<circle cx="435.1" cy="534.5" r="2.4" fill="#8669B8"/>
<circle cx="438.7" cy="534.5" r="2.4" fill="#8669B8"/>
<circle cx="443.9" cy="533.7" r="2.4" fill="#8669B8"/>
<circle cx="445.7" cy="535.8" r="2.4" fill="#8669B8"/>
<circle cx="424.6" cy="537.2" r="2.4" fill="#8669B8"/>
<circle cx="429.9" cy="537.2" r="2.4" fill="#8669B8"/>
<circle cx="436.9" cy="538" r="2.4" fill="#8669B8"/>
<circle cx="425.5" cy="540.7" r="2.4" fill="#8669B8"/>
<circle cx="428.1" cy="540.7" r="2.4" fill="#8669B8"/>
<circle cx="439.5" cy="538.9" r="2.4" fill="#8669B8"/>
<circle cx="445.7" cy="539.8" r="2.4" fill="#8669B8"/>
<circle cx="426.4" cy="544.2" r="2.4" fill="#8669B8"/>
<circle cx="438.7" cy="542.4" r="2.4" fill="#8669B8"/>
<circle cx="443.9" cy="542.9" r="2.4" fill="#8669B8"/>
<circle cx="434.7" cy="544.2" r="2.4" fill="#8669B8"/>
<circle cx="424.6" cy="546.8" r="2.4" fill="#8669B8"/>
<circle cx="429.9" cy="546.8" r="2.4" fill="#8669B8"/>
<circle cx="437.8" cy="546.8" r="2.4" fill="#8669B8"/>
<circle cx="442.2" cy="546" r="2.4" fill="#8669B8"/>
<circle cx="446.1" cy="546" r="2.4" fill="#8669B8"/>
<circle cx="419.8" cy="549.9" r="2.4" fill="#8669B8"/>
<circle cx="422" cy="550.8" r="2.4" fill="#8669B8"/>
<circle cx="429.4" cy="549.9" r="2.4" fill="#8669B8"/>
<circle cx="433.8" cy="552.1" r="2.4" fill="#8669B8"/>
<circle cx="441.3" cy="550.3" r="2.4" fill="#8669B8"/>
<circle cx="441.3" cy="554.3" r="2.4" fill="#8669B8"/>
<circle cx="420.2" cy="556.8" r="2.4" fill="#8669B8"/>
<circle cx="440" cy="560.4" r="2.4" fill="#8669B8"/>
<circle cx="438.7" cy="562.6" r="2.4" fill="#8669B8"/>
<circle cx="446.1" cy="564" r="2.4" fill="#8669B8"/>
<circle cx="417.1" cy="566.3" r="2.4" fill="#8669B8"/>
<circle cx="441.7" cy="567" r="2.4" fill="#8669B8"/>
<circle cx="433.5" cy="586.2" r="2.4" fill="#8669B8"/>
<circle cx="423.5" cy="434.2" r="2.4" fill="#8669B8"/>
<circle cx="430.7" cy="434.1" r="2.4" fill="#8669B8"/>
<circle cx="422.9" cy="438" r="2.4" fill="#8669B8"/>
<circle cx="428.9" cy="438.2" r="2.4" fill="#8669B8"/>
<circle cx="420.6" cy="441.6" r="2.4" fill="#8669B8"/>
<circle cx="424.1" cy="441.2" r="2.4" fill="#8669B8"/>
<circle cx="428" cy="442.1" r="2.4" fill="#8669B8"/>
<circle cx="431.1" cy="441.4" r="2.4" fill="#8669B8"/>
<circle cx="418.4" cy="445.8" r="2.4" fill="#8669B8"/>
<circle cx="426.1" cy="445.1" r="2.4" fill="#8669B8"/>
<circle cx="430" cy="444.6" r="2.4" fill="#8669B8"/>
<circle cx="433.3" cy="444.9" r="2.4" fill="#8669B8"/>
<circle cx="418" cy="448.2" r="2.4" fill="#8669B8"/>
<circle cx="425.3" cy="449.1" r="2.4" fill="#8669B8"/>
<circle cx="429.7" cy="448.8" r="2.4" fill="#8669B8"/>
<circle cx="434.8" cy="448.6" r="2.4" fill="#8669B8"/>
<circle cx="419.5" cy="451.7" r="2.4" fill="#8669B8"/>
<circle cx="423.4" cy="451.9" r="2.4" fill="#8669B8"/>
<circle cx="428.6" cy="452.1" r="2.4" fill="#8669B8"/>
<circle cx="432.6" cy="452.3" r="2.4" fill="#8669B8"/>
<circle cx="420.2" cy="455.5" r="2.4" fill="#8669B8"/>
<circle cx="423.9" cy="456" r="2.4" fill="#8669B8"/>
<circle cx="426.4" cy="455.8" r="2.4" fill="#8669B8"/>
<circle cx="435.2" cy="456.2" r="2.4" fill="#8669B8"/>
<circle cx="421.5" cy="459" r="2.4" fill="#8669B8"/>
<circle cx="426.3" cy="458.8" r="2.4" fill="#8669B8"/>
<circle cx="430.1" cy="459.6" r="2.4" fill="#8669B8"/>
<circle cx="420.7" cy="462.8" r="2.4" fill="#8669B8"/>
<circle cx="424.9" cy="463" r="2.4" fill="#8669B8"/>
<circle cx="430.1" cy="462.9" r="2.4" fill="#8669B8"/>
<circle cx="429.7" cy="465.6" r="2.4" fill="#8669B8"/>
<circle cx="418.3" cy="469" r="2.4" fill="#8669B8"/>
<circle cx="423.3" cy="468.9" r="2.4" fill="#8669B8"/>
<circle cx="429.8" cy="469.5" r="2.4" fill="#8669B8"/>
<circle cx="418.1" cy="472.6" r="2.4" fill="#8669B8"/>
<circle cx="423.5" cy="472.7" r="2.4" fill="#8669B8"/>
<circle cx="422.7" cy="476.6" r="2.4" fill="#8669B8"/>
<circle cx="428" cy="475.7" r="2.4" fill="#8669B8"/>
<circle cx="420.7" cy="479.7" r="2.4" fill="#8669B8"/>
<circle cx="427.5" cy="479.4" r="2.4" fill="#8669B8"/>
<circle cx="434.4" cy="479" r="2.4" fill="#8669B8"/>
<circle cx="436.7" cy="479.8" r="2.4" fill="#8669B8"/>
<circle cx="415.9" cy="483.1" r="2.4" fill="#8669B8"/>
<circle cx="420.2" cy="483.9" r="2.4" fill="#8669B8"/>
<circle cx="423.9" cy="483.4" r="2.4" fill="#8669B8"/>
<circle cx="428.5" cy="483.9" r="2.4" fill="#8669B8"/>
<circle cx="435.2" cy="483.9" r="2.4" fill="#8669B8"/>
<circle cx="437" cy="483.3" r="2.4" fill="#8669B8"/>
<circle cx="421" cy="487.8" r="2.4" fill="#8669B8"/>
<circle cx="426.7" cy="486.9" r="2.4" fill="#8669B8"/>
<circle cx="430.7" cy="487" r="2.4" fill="#8669B8"/>
<circle cx="423.5" cy="490.4" r="2.4" fill="#8669B8"/>
<circle cx="427.6" cy="490.2" r="2.4" fill="#8669B8"/>
<circle cx="430.5" cy="490.3" r="2.4" fill="#8669B8"/>
<circle cx="428.5" cy="502.5" r="2.4" fill="#8669B8"/>
<circle cx="432.6" cy="502.7" r="2.4" fill="#8669B8"/>
<circle cx="435.5" cy="502.6" r="2.4" fill="#8669B8"/>
<circle cx="446.1" cy="501.9" r="2.4" fill="#8669B8"/>
<circle cx="421.2" cy="505.9" r="2.4" fill="#8669B8"/>
<circle cx="427.2" cy="505.9" r="2.4" fill="#8669B8"/>
<circle cx="435.4" cy="505.4" r="2.4" fill="#8669B8"/>
<circle cx="441.2" cy="505.7" r="2.4" fill="#8669B8"/>
<circle cx="423.3" cy="507.6" r="2.4" fill="#8669B8"/>
<circle cx="426.3" cy="507.8" r="2.4" fill="#8669B8"/>
<circle cx="424" cy="511.1" r="2.4" fill="#8669B8"/>
<circle cx="426.1" cy="511.3" r="2.4" fill="#8669B8"/>
<circle cx="435.6" cy="511.5" r="2.4" fill="#8669B8"/>
<circle cx="438" cy="512.2" r="2.4" fill="#8669B8"/>
<circle cx="424.4" cy="514.8" r="2.4" fill="#8669B8"/>
<circle cx="428.2" cy="515" r="2.4" fill="#8669B8"/>
<circle cx="434.6" cy="514.7" r="2.4" fill="#8669B8"/>
<circle cx="437.7" cy="515.8" r="2.4" fill="#8669B8"/>
<circle cx="416.9" cy="519.1" r="2.4" fill="#8669B8"/>
<circle cx="423.7" cy="518.7" r="2.4" fill="#8669B8"/>
<circle cx="428.4" cy="518.9" r="2.4" fill="#8669B8"/>
<circle cx="433.3" cy="518.7" r="2.4" fill="#8669B8"/>
<circle cx="436.7" cy="519.7" r="2.4" fill="#8669B8"/>
<circle cx="441.7" cy="518.7" r="2.4" fill="#8669B8"/>
<circle cx="423.4" cy="523" r="2.4" fill="#8669B8"/>
<circle cx="428" cy="524.1" r="2.4" fill="#8669B8"/>
<circle cx="433" cy="523.8" r="2.4" fill="#8669B8"/>
<circle cx="436.8" cy="523.4" r="2.4" fill="#8669B8"/>
<circle cx="441.2" cy="523.9" r="2.4" fill="#8669B8"/>
<circle cx="423" cy="528.3" r="2.4" fill="#8669B8"/>
<circle cx="426.3" cy="527.6" r="2.4" fill="#8669B8"/>
<circle cx="430.5" cy="528.5" r="2.4" fill="#8669B8"/>
<circle cx="434.2" cy="528.3" r="2.4" fill="#8669B8"/>
<circle cx="441.3" cy="528.2" r="2.4" fill="#8669B8"/>
<circle cx="443.9" cy="528" r="2.4" fill="#8669B8"/>
<circle cx="423.2" cy="531.8" r="2.4" fill="#8669B8"/>
<circle cx="427" cy="532.1" r="2.4" fill="#8669B8"/>
<circle cx="431.4" cy="532.6" r="2.4" fill="#8669B8"/>
<circle cx="436.5" cy="532.3" r="2.4" fill="#8669B8"/>
<circle cx="440.6" cy="532.9" r="2.4" fill="#8669B8"/>
<circle cx="444.8" cy="532.2" r="2.4" fill="#8669B8"/>
<circle cx="423.9" cy="536.4" r="2.4" fill="#8669B8"/>
<circle cx="427.6" cy="536.4" r="2.4" fill="#8669B8"/>
<circle cx="431.8" cy="537.2" r="2.4" fill="#8669B8"/>
<circle cx="435.7" cy="536.7" r="2.4" fill="#8669B8"/>
<circle cx="439.2" cy="537.1" r="2.4" fill="#8669B8"/>
<circle cx="445" cy="536.9" r="2.4" fill="#8669B8"/>
<circle cx="425.6" cy="541.5" r="2.4" fill="#8669B8"/>
<circle cx="429.6" cy="541.1" r="2.4" fill="#8669B8"/>
<circle cx="437" cy="541.5" r="2.4" fill="#8669B8"/>
<circle cx="441.1" cy="541.5" r="2.4" fill="#8669B8"/>
<circle cx="445.7" cy="541" r="2.4" fill="#8669B8"/>
<circle cx="425" cy="546.1" r="2.4" fill="#8669B8"/>
<circle cx="429.6" cy="545.1" r="2.4" fill="#8669B8"/>
<circle cx="435.2" cy="545.1" r="2.4" fill="#8669B8"/>
<circle cx="441.1" cy="545.9" r="2.4" fill="#8669B8"/>
<circle cx="445.2" cy="545.9" r="2.4" fill="#8669B8"/>
<circle cx="421.5" cy="550.1" r="2.4" fill="#8669B8"/>
<circle cx="429.2" cy="550" r="2.4" fill="#8669B8"/>
<circle cx="433.6" cy="549.3" r="2.4" fill="#8669B8"/>
<circle cx="442.1" cy="550.1" r="2.4" fill="#8669B8"/>
<circle cx="441.5" cy="554.8" r="2.4" fill="#8669B8"/>
<circle cx="396.2" cy="507" r="2.4" fill="#37C597"/>
<circle cx="393.3" cy="445.6" r="2.4" fill="#37C597"/>
<circle cx="449" cy="380.6" r="2.4" fill="#37C597"/>
<circle cx="462.5" cy="380.2" r="2.4" fill="#37C597"/>
<circle cx="454.8" cy="387.3" r="2.4" fill="#37C597"/>
<circle cx="450.2" cy="392.8" r="2.4" fill="#37C597"/>
<circle cx="458.3" cy="396.9" r="2.4" fill="#37C597"/>
<circle cx="448.3" cy="399.6" r="2.4" fill="#37C597"/>
<circle cx="451.9" cy="408.9" r="2.4" fill="#37C597"/>
<circle cx="454.1" cy="408.6" r="2.4" fill="#37C597"/>
<circle cx="456" cy="409" r="2.4" fill="#37C597"/>
<circle cx="452.9" cy="412.8" r="2.4" fill="#37C597"/>
<circle cx="454.1" cy="424.5" r="2.4" fill="#37C597"/>
<circle cx="450.1" cy="426.5" r="2.4" fill="#37C597"/>
<circle cx="450.1" cy="429.2" r="2.4" fill="#37C597"/>
<circle cx="426.9" cy="424.2" r="2.4" fill="#37C597"/>
<circle cx="451.2" cy="447" r="2.4" fill="#37C597"/>
<circle cx="449" cy="450.9" r="2.4" fill="#37C597"/>
<circle cx="441.2" cy="452.5" r="2.4" fill="#37C597"/>
<circle cx="447.4" cy="455.8" r="2.4" fill="#37C597"/>
<circle cx="445.7" cy="457.3" r="2.4" fill="#37C597"/>
<circle cx="440.8" cy="463.2" r="2.4" fill="#37C597"/>
<circle cx="445.5" cy="470.1" r="2.4" fill="#37C597"/>
<circle cx="443.9" cy="473.8" r="2.4" fill="#37C597"/>
<circle cx="432.9" cy="470.9" r="2.4" fill="#37C597"/>
<circle cx="318" cy="607" r="2.4" fill="#E69F1C"/>
<circle cx="455.8" cy="581.6" r="2.4" fill="#E69F1C"/>
<circle cx="459.1" cy="585.7" r="2.4" fill="#E69F1C"/>
<circle cx="447" cy="588" r="2.4" fill="#E69F1C"/>
<circle cx="460.9" cy="590" r="2.4" fill="#E69F1C"/>
<circle cx="454.2" cy="591.1" r="2.4" fill="#E69F1C"/>
<circle cx="452.2" cy="593.6" r="2.4" fill="#E69F1C"/>
<circle cx="455.8" cy="594.6" r="2.4" fill="#E69F1C"/>
<circle cx="461.4" cy="595.1" r="2.4" fill="#E69F1C"/>
<circle cx="445" cy="596.2" r="2.4" fill="#E69F1C"/>
<circle cx="449.6" cy="596.7" r="2.4" fill="#E69F1C"/>
<circle cx="461.4" cy="598.2" r="2.4" fill="#E69F1C"/>
<circle cx="454.7" cy="598.7" r="2.4" fill="#E69F1C"/>
<circle cx="443.3" cy="600.1" r="2.4" fill="#E69F1C"/>
<circle cx="457.3" cy="600.8" r="2.4" fill="#E69F1C"/>
<circle cx="450.1" cy="601.8" r="2.4" fill="#E69F1C"/>
<circle cx="439.4" cy="604.9" r="2.4" fill="#E69F1C"/>
<circle cx="445.3" cy="604.9" r="2.4" fill="#E69F1C"/>
<circle cx="451.7" cy="605.4" r="2.4" fill="#E69F1C"/>
<circle cx="455.8" cy="604.9" r="2.4" fill="#E69F1C"/>
<circle cx="459.9" cy="605.4" r="2.4" fill="#E69F1C"/>
<circle cx="431.8" cy="606.9" r="2.4" fill="#E69F1C"/>
<circle cx="453.7" cy="607.9" r="2.4" fill="#E69F1C"/>
<circle cx="462.9" cy="608.4" r="2.4" fill="#E69F1C"/>
<circle cx="455.8" cy="611" r="2.4" fill="#E69F1C"/>
<circle cx="447.8" cy="611" r="2.4" fill="#E69F1C"/>
<circle cx="458.8" cy="612.5" r="2.4" fill="#E69F1C"/>
<circle cx="466" cy="611.5" r="2.4" fill="#E69F1C"/>
<circle cx="445" cy="616.9" r="2.4" fill="#E69F1C"/>
<circle cx="452.7" cy="617.1" r="2.4" fill="#E69F1C"/>
<circle cx="456.8" cy="616.1" r="2.4" fill="#E69F1C"/>
<circle cx="461.4" cy="617.1" r="2.4" fill="#E69F1C"/>
<circle cx="446.1" cy="620.2" r="2.4" fill="#E69F1C"/>
<circle cx="450.7" cy="620.7" r="2.4" fill="#E69F1C"/>
<circle cx="454.7" cy="620.7" r="2.4" fill="#E69F1C"/>
<circle cx="459.3" cy="621.2" r="2.4" fill="#E69F1C"/>
<circle cx="456.3" cy="624.3" r="2.4" fill="#E69F1C"/>
<circle cx="460.4" cy="624.8" r="2.4" fill="#E69F1C"/>
<circle cx="451.2" cy="626.8" r="2.4" fill="#E69F1C"/>
<circle cx="455.8" cy="627.8" r="2.4" fill="#E69F1C"/>
<circle cx="447.6" cy="630.4" r="2.4" fill="#E69F1C"/>
<circle cx="450.7" cy="630.9" r="2.4" fill="#E69F1C"/>
<circle cx="455.3" cy="631.4" r="2.4" fill="#E69F1C"/>
<circle cx="460.4" cy="632.4" r="2.4" fill="#E69F1C"/>
<circle cx="467.5" cy="631.9" r="2.4" fill="#E69F1C"/>
<circle cx="463.9" cy="633.5" r="2.4" fill="#E69F1C"/>
<circle cx="442" cy="633.3" r="2.4" fill="#E69F1C"/>
<circle cx="438.2" cy="636" r="2.4" fill="#E69F1C"/>
<circle cx="447.6" cy="634.5" r="2.4" fill="#E69F1C"/>
<circle cx="451.7" cy="635.5" r="2.4" fill="#E69F1C"/>
<circle cx="456.8" cy="635.5" r="2.4" fill="#E69F1C"/>
<circle cx="462.9" cy="636.5" r="2.4" fill="#E69F1C"/>
<circle cx="468" cy="634" r="2.4" fill="#E69F1C"/>
<circle cx="448.1" cy="638.1" r="2.4" fill="#E69F1C"/>
<circle cx="453.7" cy="639.1" r="2.4" fill="#E69F1C"/>
<circle cx="459.9" cy="639.6" r="2.4" fill="#E69F1C"/>
<circle cx="421.5" cy="646.8" r="2.4" fill="#E69F1C"/>
<circle cx="449.6" cy="643.2" r="2.4" fill="#E69F1C"/>
<circle cx="454.7" cy="643.7" r="2.4" fill="#E69F1C"/>
<circle cx="458.8" cy="642.7" r="2.4" fill="#E69F1C"/>
<circle cx="463.9" cy="643.7" r="2.4" fill="#E69F1C"/>
<circle cx="466.5" cy="645.7" r="2.4" fill="#E69F1C"/>
<circle cx="450.7" cy="647.8" r="2.4" fill="#E69F1C"/>
<circle cx="455.3" cy="648.3" r="2.4" fill="#E69F1C"/>
<circle cx="460.9" cy="647.8" r="2.4" fill="#E69F1C"/>
<circle cx="429.2" cy="649.8" r="2.4" fill="#E69F1C"/>
<circle cx="434.3" cy="651.4" r="2.4" fill="#E69F1C"/>
<circle cx="451.7" cy="651.4" r="2.4" fill="#E69F1C"/>
<circle cx="456.8" cy="651.4" r="2.4" fill="#E69F1C"/>
<circle cx="462.9" cy="650.8" r="2.4" fill="#E69F1C"/>
<circle cx="467.5" cy="650.8" r="2.4" fill="#E69F1C"/>
<circle cx="456.8" cy="647.6" r="2.4" fill="#E69F1C"/>
<circle cx="462.9" cy="648.1" r="2.4" fill="#E69F1C"/>
<circle cx="452.7" cy="652.7" r="2.4" fill="#E69F1C"/>
<circle cx="457.8" cy="653.2" r="2.4" fill="#E69F1C"/>
<circle cx="463.9" cy="654.2" r="2.4" fill="#E69F1C"/>
<circle cx="455.3" cy="659.8" r="2.4" fill="#E69F1C"/>
<circle cx="436.1" cy="663.6" r="2.4" fill="#E69F1C"/>
<circle cx="452.7" cy="667.5" r="2.4" fill="#E69F1C"/>
<circle cx="464.1" cy="666.7" r="2.4" fill="#E69F1C"/>
<circle cx="460.9" cy="651.1" r="2.4" fill="#E69F1C"/>
<circle cx="465" cy="656.2" r="2.4" fill="#E69F1C"/>
<circle cx="453.7" cy="656.2" r="2.4" fill="#E69F1C"/>
<circle cx="405.3" cy="703.9" r="2.4" fill="#E69F1C"/>
<circle cx="325.8" cy="639.3" r="2.4" fill="#E69F1C"/>
<circle cx="326.3" cy="646.6" r="2.4" fill="#E69F1C"/>
<circle cx="363.2" cy="648.9" r="2.4" fill="#E69F1C"/>
<circle cx="370.2" cy="650.2" r="2.4" fill="#E69F1C"/>
<circle cx="388.4" cy="645" r="2.4" fill="#E69F1C"/>
<circle cx="388.3" cy="650.1" r="2.4" fill="#E69F1C"/>
<circle cx="415" cy="640.9" r="2.4" fill="#E69F1C"/>
<circle cx="407.6" cy="645.8" r="2.4" fill="#E69F1C"/>
<circle cx="350.7" cy="654.8" r="2.4" fill="#E69F1C"/>
<circle cx="344.5" cy="658.8" r="2.4" fill="#E69F1C"/>
<circle cx="336" cy="662.4" r="2.4" fill="#E69F1C"/>
<circle cx="364.5" cy="660.9" r="2.4" fill="#E69F1C"/>
<circle cx="392.7" cy="655.2" r="2.4" fill="#E69F1C"/>
<circle cx="394.5" cy="655.5" r="2.4" fill="#E69F1C"/>
<circle cx="390.4" cy="657" r="2.4" fill="#E69F1C"/>
<circle cx="392.9" cy="660.1" r="2.4" fill="#E69F1C"/>
<circle cx="407.8" cy="658.6" r="2.4" fill="#E69F1C"/>
<circle cx="411.4" cy="664.5" r="2.4" fill="#E69F1C"/>
<circle cx="359.3" cy="665.5" r="2.4" fill="#E69F1C"/>
<circle cx="359.8" cy="668.1" r="2.4" fill="#E69F1C"/>
<circle cx="367.3" cy="667.1" r="2.4" fill="#E69F1C"/>
<circle cx="374" cy="668.1" r="2.4" fill="#E69F1C"/>
<circle cx="334.8" cy="669.6" r="2.4" fill="#E69F1C"/>
<circle cx="334" cy="672.4" r="2.4" fill="#E69F1C"/>
<circle cx="319.6" cy="670.7" r="2.4" fill="#E69F1C"/>
<circle cx="347" cy="672.5" r="2.4" fill="#E69F1C"/>
<circle cx="350.4" cy="674" r="2.4" fill="#E69F1C"/>
<circle cx="396.5" cy="672" r="2.4" fill="#E69F1C"/>
<circle cx="396.5" cy="678.3" r="2.4" fill="#E69F1C"/>
<circle cx="336.8" cy="681.1" r="2.4" fill="#E69F1C"/>
<circle cx="338.6" cy="684.7" r="2.4" fill="#E69F1C"/>
<circle cx="353.9" cy="684.3" r="2.4" fill="#E69F1C"/>
<circle cx="365.5" cy="688.6" r="2.4" fill="#E69F1C"/>
<circle cx="318.9" cy="686.8" r="2.4" fill="#E69F1C"/>
<circle cx="319.9" cy="707.3" r="2.4" fill="#E69F1C"/>
<circle cx="240.5" cy="636.1" r="2.4" fill="#E69F1C"/>
<circle cx="298.2" cy="655.8" r="2.4" fill="#E69F1C"/>
<circle cx="297" cy="661.6" r="2.4" fill="#E69F1C"/>
<circle cx="284.1" cy="676.3" r="2.4" fill="#E69F1C"/>
<circle cx="297.5" cy="675.5" r="2.4" fill="#E69F1C"/>
<circle cx="273.1" cy="681.9" r="2.4" fill="#E69F1C"/>
<circle cx="253.3" cy="684.7" r="2.4" fill="#E69F1C"/>
<circle cx="253.3" cy="690.7" r="2.4" fill="#E69F1C"/>
<circle cx="290" cy="691.7" r="2.4" fill="#E69F1C"/>
<circle cx="304.3" cy="688.4" r="2.4" fill="#E69F1C"/>
<circle cx="270.8" cy="698.8" r="2.4" fill="#E69F1C"/>
<circle cx="256.6" cy="701.4" r="2.4" fill="#E69F1C"/>
<circle cx="255.9" cy="705" r="2.4" fill="#E69F1C"/>
<circle cx="246.1" cy="705.7" r="2.4" fill="#E69F1C"/>
<circle cx="300.7" cy="701.2" r="2.4" fill="#E69F1C"/>
<circle cx="297" cy="704.5" r="2.4" fill="#E69F1C"/>
<circle cx="287.9" cy="706" r="2.4" fill="#E69F1C"/>
<circle cx="313.1" cy="700.9" r="2.4" fill="#E69F1C"/>
<circle cx="260" cy="711.7" r="2.4" fill="#E69F1C"/>
<circle cx="266.2" cy="714.7" r="2.4" fill="#E69F1C"/>
<circle cx="275.1" cy="711.7" r="2.4" fill="#E69F1C"/>
<circle cx="304.3" cy="727.5" r="2.4" fill="#E69F1C"/>
<circle cx="223.4" cy="731.6" r="2.4" fill="#E69F1C"/>
<circle cx="313.1" cy="740.7" r="2.4" fill="#E69F1C"/>
<circle cx="417.6" cy="614.3" r="2.4" fill="#E69F1C"/>
<circle cx="452.9" cy="591.6" r="2.4" fill="#E69F1C"/>
<circle cx="456" cy="590.6" r="2.4" fill="#E69F1C"/>
<circle cx="444.9" cy="596.4" r="2.4" fill="#E69F1C"/>
<circle cx="448.9" cy="596.8" r="2.4" fill="#E69F1C"/>
<circle cx="452.9" cy="596.6" r="2.4" fill="#E69F1C"/>
<circle cx="456.6" cy="597.3" r="2.4" fill="#E69F1C"/>
<circle cx="460.9" cy="596.6" r="2.4" fill="#E69F1C"/>
<circle cx="450.5" cy="602.4" r="2.4" fill="#E69F1C"/>
<circle cx="453.9" cy="602.4" r="2.4" fill="#E69F1C"/>
<circle cx="457.6" cy="601.8" r="2.4" fill="#E69F1C"/>
<circle cx="452" cy="605.7" r="2.4" fill="#E69F1C"/>
<circle cx="455.7" cy="605.9" r="2.4" fill="#E69F1C"/>
<circle cx="458.9" cy="606.8" r="2.4" fill="#E69F1C"/>
<circle cx="455" cy="611.5" r="2.4" fill="#E69F1C"/>
<circle cx="458.9" cy="611.6" r="2.4" fill="#E69F1C"/>
<circle cx="445" cy="616.6" r="2.4" fill="#E69F1C"/>
<circle cx="449.3" cy="617" r="2.4" fill="#E69F1C"/>
<circle cx="452.6" cy="616.7" r="2.4" fill="#E69F1C"/>
<circle cx="456.8" cy="616.3" r="2.4" fill="#E69F1C"/>
<circle cx="461.5" cy="616.6" r="2.4" fill="#E69F1C"/>
<circle cx="446.4" cy="621.6" r="2.4" fill="#E69F1C"/>
<circle cx="451.5" cy="621.1" r="2.4" fill="#E69F1C"/>
<circle cx="455.7" cy="621.2" r="2.4" fill="#E69F1C"/>
<circle cx="460.1" cy="621.5" r="2.4" fill="#E69F1C"/>
<circle cx="456" cy="624.8" r="2.4" fill="#E69F1C"/>
<circle cx="460.1" cy="625.4" r="2.4" fill="#E69F1C"/>
<circle cx="451.7" cy="628.9" r="2.4" fill="#E69F1C"/>
<circle cx="456.1" cy="628" r="2.4" fill="#E69F1C"/>
<circle cx="459.7" cy="629" r="2.4" fill="#E69F1C"/>
<circle cx="447.8" cy="632.9" r="2.4" fill="#E69F1C"/>
<circle cx="450.9" cy="633.4" r="2.4" fill="#E69F1C"/>
<circle cx="454.9" cy="633.1" r="2.4" fill="#E69F1C"/>
<circle cx="459" cy="633.7" r="2.4" fill="#E69F1C"/>
<circle cx="464.1" cy="634" r="2.4" fill="#E69F1C"/>
<circle cx="467.3" cy="633.8" r="2.4" fill="#E69F1C"/>
<circle cx="448.1" cy="638.1" r="2.4" fill="#E69F1C"/>
<circle cx="452.6" cy="639.2" r="2.4" fill="#E69F1C"/>
<circle cx="455.9" cy="639.2" r="2.4" fill="#E69F1C"/>
<circle cx="460.3" cy="638.6" r="2.4" fill="#E69F1C"/>
<circle cx="465.4" cy="639.1" r="2.4" fill="#E69F1C"/>
<circle cx="448.9" cy="643.1" r="2.4" fill="#E69F1C"/>
<circle cx="453.6" cy="642.9" r="2.4" fill="#E69F1C"/>
<circle cx="457.4" cy="642.9" r="2.4" fill="#E69F1C"/>
<circle cx="462.3" cy="642.5" r="2.4" fill="#E69F1C"/>
<circle cx="466.3" cy="643.1" r="2.4" fill="#E69F1C"/>
<circle cx="450.2" cy="648.6" r="2.4" fill="#E69F1C"/>
<circle cx="455.2" cy="648.8" r="2.4" fill="#E69F1C"/>
<circle cx="458.5" cy="649.5" r="2.4" fill="#E69F1C"/>
<circle cx="463.6" cy="649.5" r="2.4" fill="#E69F1C"/>
<circle cx="466.7" cy="648.5" r="2.4" fill="#E69F1C"/>
<circle cx="450.3" cy="648.5" r="2.4" fill="#E69F1C"/>
<circle cx="454.5" cy="647.5" r="2.4" fill="#E69F1C"/>
<circle cx="458.7" cy="648.7" r="2.4" fill="#E69F1C"/>
<circle cx="463.2" cy="647.7" r="2.4" fill="#E69F1C"/>
<circle cx="466.3" cy="648.7" r="2.4" fill="#E69F1C"/>
<circle cx="452" cy="653.2" r="2.4" fill="#E69F1C"/>
<circle cx="455.9" cy="652.3" r="2.4" fill="#E69F1C"/>
<circle cx="461.4" cy="652.8" r="2.4" fill="#E69F1C"/>
<circle cx="465.1" cy="653.5" r="2.4" fill="#E69F1C"/>
<circle cx="452.1" cy="656.9" r="2.4" fill="#E69F1C"/>
<circle cx="455.9" cy="657" r="2.4" fill="#E69F1C"/>
<circle cx="460.5" cy="657" r="2.4" fill="#E69F1C"/>
<circle cx="465.7" cy="656.3" r="2.4" fill="#E69F1C"/>
<circle cx="449.6" cy="683.8" r="2.4" fill="#E69F1C"/>
<circle cx="452.7" cy="571.3" r="2.4" fill="#CB80D1"/>
<circle cx="436.9" cy="638.1" r="2.4" fill="#CB80D1"/>
<circle cx="435.8" cy="641.1" r="2.4" fill="#CB80D1"/>
<circle cx="465" cy="637.6" r="2.4" fill="#CB80D1"/>
<circle cx="431" cy="655.5" r="2.4" fill="#CB80D1"/>
<circle cx="452.5" cy="658.6" r="2.4" fill="#CB80D1"/>
<circle cx="462.7" cy="657.5" r="2.4" fill="#CB80D1"/>
<circle cx="471.1" cy="670.5" r="2.4" fill="#CB80D1"/>
<circle cx="469.1" cy="672.8" r="2.4" fill="#CB80D1"/>
<circle cx="468" cy="683.6" r="2.4" fill="#CB80D1"/>
<circle cx="465.5" cy="684.1" r="2.4" fill="#CB80D1"/>
<circle cx="466.7" cy="690" r="2.4" fill="#CB80D1"/>
<circle cx="469.8" cy="695.8" r="2.4" fill="#CB80D1"/>
<circle cx="445.8" cy="698.4" r="2.4" fill="#CB80D1"/>
<circle cx="404.5" cy="683.7" r="2.4" fill="#CB80D1"/>
<circle cx="421" cy="661.9" r="2.4" fill="#72ABEC"/>
<circle cx="432.8" cy="666.7" r="2.4" fill="#72ABEC"/>
<circle cx="438.9" cy="669" r="2.4" fill="#72ABEC"/>
<circle cx="475.8" cy="658.9" r="2.4" fill="#72ABEC"/>
<circle cx="477" cy="660.4" r="2.4" fill="#72ABEC"/>
<circle cx="454.7" cy="664.9" r="2.4" fill="#72ABEC"/>
<circle cx="459.9" cy="663.4" r="2.4" fill="#72ABEC"/>
<circle cx="467" cy="664.2" r="2.4" fill="#72ABEC"/>
<circle cx="454.2" cy="667" r="2.4" fill="#72ABEC"/>
<circle cx="459.3" cy="664.9" r="2.4" fill="#72ABEC"/>
<circle cx="466.5" cy="668.5" r="2.4" fill="#72ABEC"/>
<circle cx="458" cy="672.4" r="2.4" fill="#72ABEC"/>
<circle cx="462.4" cy="672.1" r="2.4" fill="#72ABEC"/>
<circle cx="465" cy="670.5" r="2.4" fill="#72ABEC"/>
<circle cx="463.4" cy="674.6" r="2.4" fill="#72ABEC"/>
<circle cx="461.4" cy="676.7" r="2.4" fill="#72ABEC"/>
<circle cx="468" cy="674.1" r="2.4" fill="#72ABEC"/>
<circle cx="456" cy="679.2" r="2.4" fill="#72ABEC"/>
<circle cx="457.6" cy="681.6" r="2.4" fill="#72ABEC"/>
<circle cx="466.5" cy="679.7" r="2.4" fill="#72ABEC"/>
<circle cx="470.8" cy="681.3" r="2.4" fill="#72ABEC"/>
<circle cx="475" cy="679.2" r="2.4" fill="#72ABEC"/>
<circle cx="451.9" cy="686.6" r="2.4" fill="#72ABEC"/>
<circle cx="452.2" cy="691.3" r="2.4" fill="#72ABEC"/>
<circle cx="469.8" cy="686.4" r="2.4" fill="#72ABEC"/>
<circle cx="471.1" cy="688.4" r="2.4" fill="#72ABEC"/>
<circle cx="457" cy="698.3" r="2.4" fill="#72ABEC"/>
<circle cx="475.2" cy="700.5" r="2.4" fill="#72ABEC"/>
<circle cx="470.4" cy="707.5" r="2.4" fill="#72ABEC"/>
<circle cx="453.4" cy="713.5" r="2.4" fill="#72ABEC"/>
<circle cx="464.5" cy="713" r="2.4" fill="#72ABEC"/>
<circle cx="466.2" cy="712.4" r="2.4" fill="#72ABEC"/>
<circle cx="478" cy="721.1" r="2.4" fill="#72ABEC"/>
<circle cx="470.9" cy="731.4" r="2.4" fill="#72ABEC"/>
<circle cx="474.6" cy="734" r="2.4" fill="#72ABEC"/>
<circle cx="475.9" cy="734.7" r="2.4" fill="#72ABEC"/>
<circle cx="415.7" cy="730.5" r="2.4" fill="#72ABEC"/>
<circle cx="415.3" cy="737.2" r="2.4" fill="#72ABEC"/>
<circle cx="411.1" cy="692" r="2.4" fill="#72ABEC"/>
<circle cx="353.5" cy="714.8" r="2.4" fill="#72ABEC"/>
<circle cx="386.5" cy="717" r="2.4" fill="#72ABEC"/>
<circle cx="386" cy="730.2" r="2.4" fill="#72ABEC"/>
<circle cx="294.4" cy="722.2" r="2.4" fill="#72ABEC"/>
<circle cx="269.5" cy="739.4" r="2.4" fill="#72ABEC"/>
<circle cx="296.9" cy="744" r="2.4" fill="#72ABEC"/>
<circle cx="291.6" cy="760.7" r="2.4" fill="#72ABEC"/>
<circle cx="313.1" cy="773.6" r="2.4" fill="#72ABEC"/>
<circle cx="464.5" cy="681.5" r="2.4" fill="#E69F1C"/>
<circle cx="476.5" cy="697.6" r="2.4" fill="#CB80D1"/>
<rect x="84.65" y="364.3" width="408.65" height="425.09999999999997" fill="none" stroke="#000" stroke-width="1"/>
<line x1="92.05" x2="92.05" y1="789.4" y2="798.7" stroke="#000" stroke-width="1"/>
<text x="92.05" y="819.4" text-anchor="middle" font-size="13.3">−8000</text>
<line x1="167.05" x2="167.05" y1="789.4" y2="798.7" stroke="#000" stroke-width="1"/>
<text x="167.05" y="819.4" text-anchor="middle" font-size="13.3">−6000</text>
<line x1="242.05" x2="242.05" y1="789.4" y2="798.7" stroke="#000" stroke-width="1"/>
<text x="242.05" y="819.4" text-anchor="middle" font-size="13.3">−4000</text>
<line x1="317.05" x2="317.05" y1="789.4" y2="798.7" stroke="#000" stroke-width="1"/>
<text x="317.05" y="819.4" text-anchor="middle" font-size="13.3">−2000</text>
<line x1="392.05" x2="392.05" y1="789.4" y2="798.7" stroke="#000" stroke-width="1"/>
<text x="392.05" y="819.4" text-anchor="middle" font-size="13.3">0</text>
<line x1="467.05" x2="467.05" y1="789.4" y2="798.7" stroke="#000" stroke-width="1"/>
<text x="467.05" y="819.4" text-anchor="middle" font-size="13.3">2000</text>
<line x1="75.8" x2="84.65" y1="459.65" y2="459.65" stroke="#000" stroke-width="1"/>
<text transform="translate(65.5,459.65) rotate(-90)" text-anchor="middle" font-size="13.3">2000</text>
<line x1="75.8" x2="84.65" y1="567.6" y2="567.6" stroke="#000" stroke-width="1"/>
<text transform="translate(65.5,567.6) rotate(-90)" text-anchor="middle" font-size="13.3">0</text>
<line x1="75.8" x2="84.65" y1="675.55" y2="675.55" stroke="#000" stroke-width="1"/>
<text transform="translate(65.5,675.55) rotate(-90)" text-anchor="middle" font-size="13.3">−2000</text>
<line x1="75.8" x2="84.65" y1="783.5" y2="783.5" stroke="#000" stroke-width="1"/>
<text transform="translate(65.5,783.5) rotate(-90)" text-anchor="middle" font-size="13.3">−4000</text>
<text x="289.3" y="852" text-anchor="middle" font-size="13.4" xml:space="preserve">PC1  3.12 %</text>
<text transform="translate(32.3,576.6) rotate(-90)" text-anchor="middle" font-size="13.4" xml:space="preserve">PC2  1.59 %</text>
<rect x="621.4" y="690.4" width="48.3" height="99" fill="none" stroke="#000" stroke-width="1"/>
<circle cx="633.6" cy="707" r="2.4" fill="#8669B8"/>
<text x="646.6" y="711.6" font-size="13.3">K1</text>
<circle cx="633.6" cy="723.5" r="2.4" fill="#E69F1C"/>
<text x="646.6" y="728.1" font-size="13.3">K2</text>
<circle cx="633.6" cy="740" r="2.4" fill="#CB80D1"/>
<text x="646.6" y="744.6" font-size="13.3">K3</text>
<circle cx="633.6" cy="756.5" r="2.4" fill="#37C597"/>
<text x="646.6" y="761.1" font-size="13.3">K4</text>
<circle cx="633.6" cy="773" r="2.4" fill="#72ABEC"/>
<text x="646.6" y="777.6" font-size="13.3">K5</text>
</g>
</svg>
</body></html>
